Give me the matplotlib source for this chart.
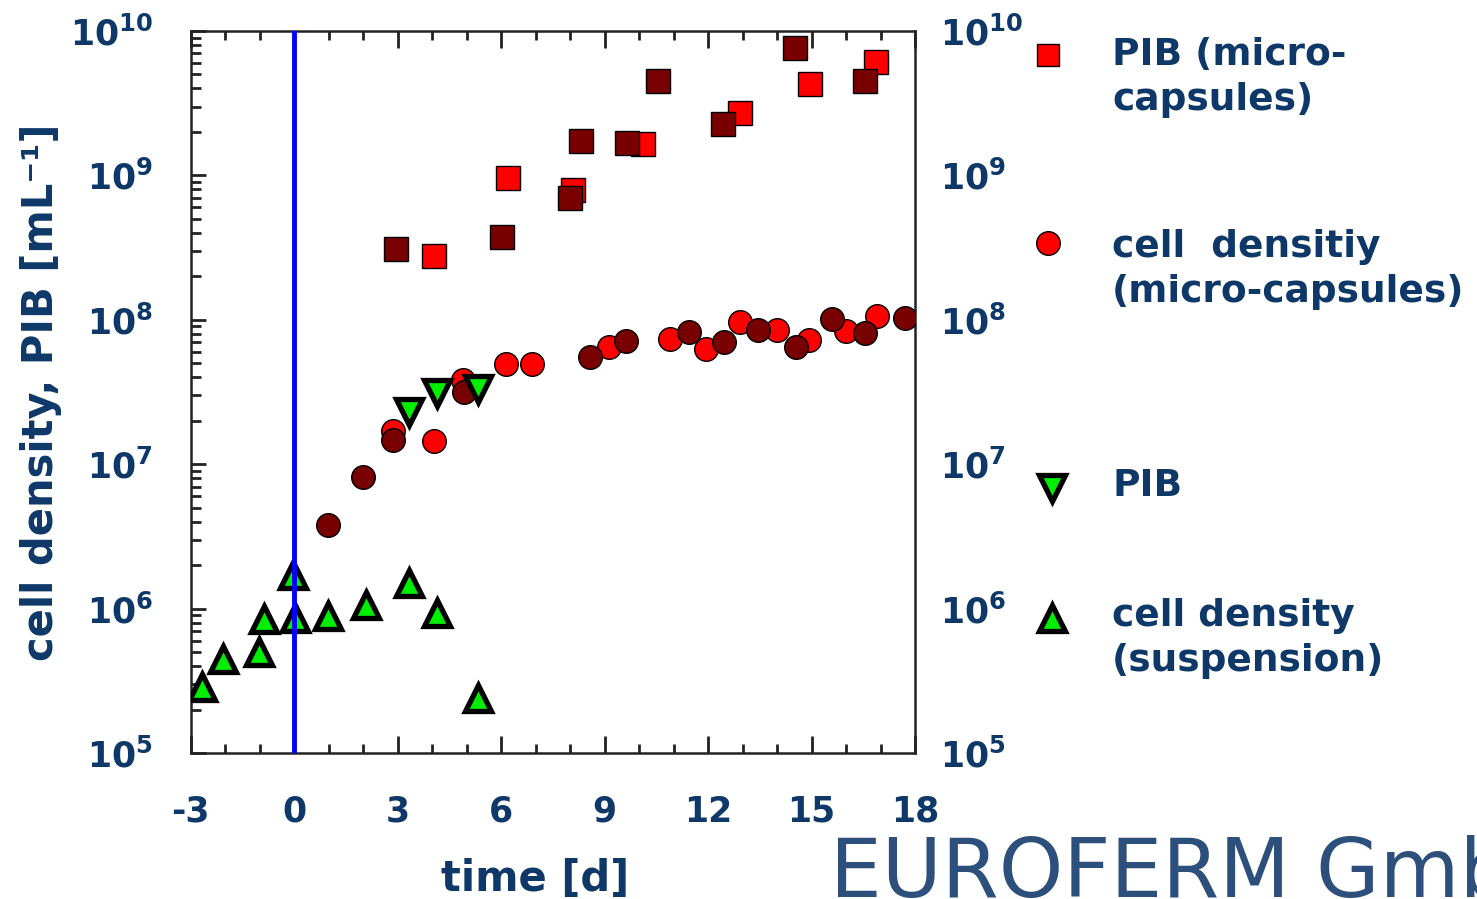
import matplotlib
matplotlib.use("Agg")
import matplotlib.pyplot as plt
from matplotlib.ticker import LogLocator, MultipleLocator, FixedLocator, FixedFormatter, NullFormatter

plt.rcParams['font.family'] = ['DejaVu Sans']
plt.rcParams['font.weight'] = 'bold'
plt.rcParams['mathtext.fontset'] = 'dejavusans'
plt.rcParams['mathtext.default'] = 'bf'

# ---------------- data ----------------
# PIB micro-capsules, replicate 1 (bright red squares)
pib_mc1_t = [4.06, 6.2, 8.08, 10.11, 12.93, 14.96, 16.87]
pib_mc1_v = [2.77e8, 9.6e8, 7.9e8, 1.65e9, 2.7e9, 4.3e9, 6.1e9]
# PIB micro-capsules, replicate 2 (dark red squares)
pib_mc2_t = [2.95, 6.03, 8.32, 8.0, 9.65, 10.55, 12.43, 14.52, 16.55]
pib_mc2_v = [3.1e8, 3.74e8, 1.73e9, 6.97e8, 1.68e9, 4.5e9, 2.27e9, 7.6e9, 4.5e9]
# cell density micro-capsules, replicate 1 (bright red circles)
cd_mc1_t = [2.88, 4.06, 4.9, 6.14, 6.9, 9.12, 10.9, 11.93, 12.93, 13.99, 14.94, 15.99, 16.91]
cd_mc1_v = [1.71e7, 1.45e7, 3.83e7, 4.94e7, 4.94e7, 6.5e7, 7.4e7, 6.3e7, 9.7e7, 8.5e7, 7.2e7, 8.4e7, 1.06e8]
# cell density micro-capsules, replicate 2 (dark red circles)
cd_mc2_t = [0.97, 2.01, 2.88, 4.92, 8.59, 9.63, 11.45, 12.45, 13.45, 14.55, 15.59, 16.55, 17.71]
cd_mc2_v = [3.79e6, 8.2e6, 1.46e7, 3.18e7, 5.5e7, 7.1e7, 8.2e7, 7.0e7, 8.5e7, 6.5e7, 1.01e8, 8.1e7, 1.03e8]
# PIB suspension (down triangles)
pib_susp_t = [3.32, 4.14, 5.32]
pib_susp_v = [2.31e7, 3.11e7, 3.32e7]
# cell density suspension (up triangles)
cd_susp_t = [-2.67, -2.05, -1.01, -0.87, -0.02, 0.03, 0.98, 2.08, 3.34, 4.15, 5.32]
cd_susp_v = [2.88e5, 4.48e5, 5.04e5, 8.5e5, 1.71e6, 8.65e5, 8.9e5, 1.06e6, 1.51e6, 9.3e5, 2.4e5]

x_ticks = [-3, 0, 3, 6, 9, 12, 15, 18]
x_ticklabels = ['-3', '0', '3', '6', '9', '12', '15', '18']
legend_labels = ['PIB (micro-\ncapsules)', 'cell  densitiy\n(micro-capsules)', 'PIB',
                 'cell density\n(suspension)']
start_day = 0

NAVY = '#0d3868'
RED = '#ff0000'
DARK = '#780000'
GREEN = '#00ee00'
TICKC = '#222222'

W, H = 1477, 899
fig = plt.figure(figsize=(W / 100, H / 100), dpi=100)
L, R, T, B = 190.6, 915, 31, 753
ax = fig.add_axes([L / W, 1 - B / H, (R - L) / W, (B - T) / H])

ax.set_yscale('log')
ax.set_xlim(-3, 18)
ax.set_ylim(1e5, 1e10)

ms = 17
ax.plot(pib_mc1_t, pib_mc1_v, 's', ms=ms, mfc=RED, mec='black', mew=1, zorder=3)
ax.plot(pib_mc2_t, pib_mc2_v, 's', ms=ms, mfc=DARK, mec='black', mew=1, zorder=4)
ax.plot(cd_mc1_t, cd_mc1_v, 'o', ms=ms, mfc=RED, mec='black', mew=1, zorder=3)
ax.plot(cd_mc2_t, cd_mc2_v, 'o', ms=ms, mfc=DARK, mec='black', mew=1, zorder=4)
ax.plot(pib_susp_t, pib_susp_v, 'v', ms=19, mfc=GREEN, mec='black', mew=3.8, zorder=5)
ax.plot(cd_susp_t, cd_susp_v, '^', ms=19, mfc=GREEN, mec='black', mew=3.8, zorder=5)
ax.axvline(start_day, color='#0000ff', lw=3.5, zorder=6)

# ticks
ax.xaxis.set_major_locator(FixedLocator(x_ticks))
ax.xaxis.set_major_formatter(FixedFormatter(x_ticklabels))
ax.xaxis.set_minor_locator(MultipleLocator(1))
ax.yaxis.set_major_locator(LogLocator(base=10, numticks=10))
ax.yaxis.set_minor_locator(LogLocator(base=10, subs=range(2, 10), numticks=100))
ax.yaxis.set_minor_formatter(NullFormatter())
ax.tick_params(which='both', direction='in', top=True, right=True, labelright=False,
               color=TICKC, width=2, labelcolor=NAVY, labelsize=25)
ax.tick_params(axis='y', which='major', length=11, pad=27)
ax.tick_params(axis='y', which='minor', length=7)
ax.tick_params(axis='x', which='major', length=12, pad=30)
ax.tick_params(axis='x', which='minor', length=6.5)
for s in ax.spines.values():
    s.set_linewidth(1.8)
    s.set_color(TICKC)

# right-hand labels
ax2 = ax.twinx()
ax2.set_yscale('log')
ax2.set_ylim(ax.get_ylim())
ax2.yaxis.set_major_locator(LogLocator(base=10, numticks=10))
ax2.yaxis.set_minor_locator(LogLocator(base=10, subs=range(2, 10), numticks=100))
ax2.yaxis.set_minor_formatter(NullFormatter())
ax2.tick_params(which='both', length=0, labelsize=25, labelcolor=NAVY, pad=18)
for s in ax2.spines.values():
    s.set_visible(False)

ax.set_xlabel('time [d]', fontsize=30, color=NAVY, fontweight='bold')
ax.xaxis.set_label_coords(0.475, -0.146)
ax.set_ylabel('cell density, PIB [mL⁻¹]', fontsize=30, color=NAVY, fontweight='bold')
ax.yaxis.set_label_coords(-0.177, 0.5)

# legend (manual)
lax = fig.add_axes([0, 0, 1, 1], facecolor='none')
lax.set_xlim(0, W)
lax.set_ylim(H, 0)
lax.axis('off')
lax.plot([1048], [55], 's', ms=16, mfc=RED, mec='black', mew=1)
lax.plot([1048], [243], 'o', ms=17, mfc=RED, mec='black', mew=1)
lax.plot([1052], [488], 'v', ms=19, mfc=GREEN, mec='black', mew=3.8)
lax.plot([1052], [618], '^', ms=19, mfc=GREEN, mec='black', mew=3.8)
for (yy, txt) in zip([37, 229, 468, 598], legend_labels):
    lax.text(1112, yy, txt, fontsize=27, color=NAVY, fontweight='bold', va='top', ha='left',
             linespacing=1.33)

# logo text
lax.text(830, 897, 'EUROFERM GmbH', fontsize=59, color='#2c4f7c', family='DejaVu Sans',
         fontweight='normal', va='baseline', ha='left')

fig.savefig('out.png', dpi=100)
